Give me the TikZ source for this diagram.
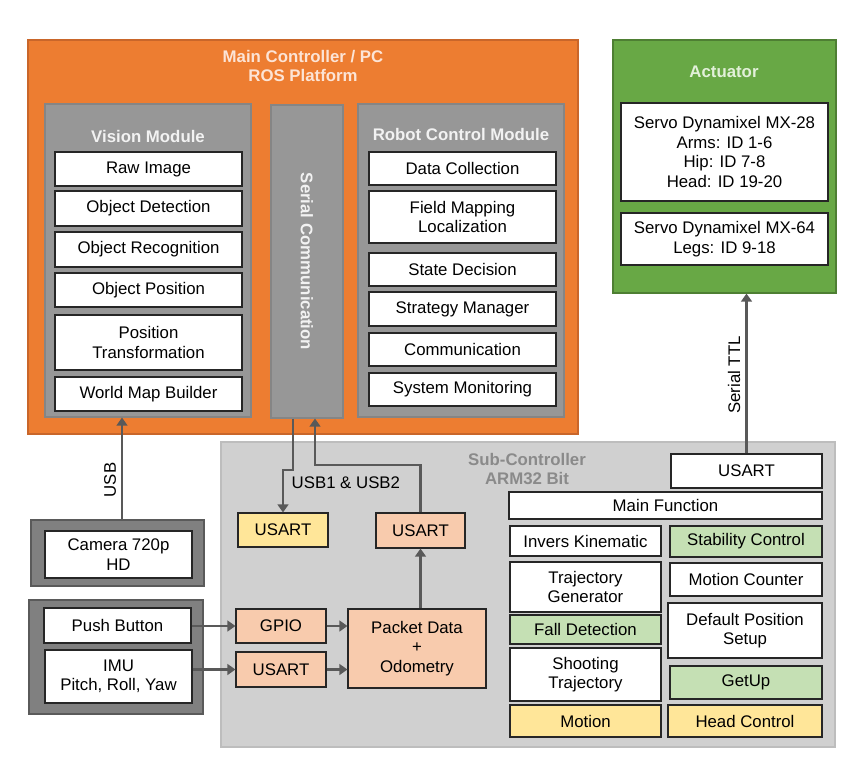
\documentclass[tikz,border=0pt]{standalone}
\usepackage{fontspec}
\setmainfont{Liberation Sans}
\usepackage{xcolor}
\usetikzlibrary{arrows.meta, positioning}

\definecolor{arancio}{HTML}{ED7D31}
\definecolor{arancioScuro}{HTML}{C9662A}
\definecolor{arancioChiaro}{HTML}{FCE4D6}
\definecolor{grigioMod}{HTML}{979797}
\definecolor{grigioBordo}{HTML}{858585}
\definecolor{grigioSub}{HTML}{D0D0D0}
\definecolor{grigioSubBordo}{HTML}{BDBDBD}
\definecolor{grigioTitolo}{HTML}{8A8A8A}
\definecolor{grigioScuro}{HTML}{808080}
\definecolor{grigioScuroBordo}{HTML}{5A5A5A}
\definecolor{grigioFreccia}{HTML}{595959}
\definecolor{verde}{HTML}{68A845}
\definecolor{verdeScuro}{HTML}{4E7F33}
\definecolor{verdeChiaro}{HTML}{E2F0D9}
\definecolor{verdeTenue}{HTML}{C5E0B4}
\definecolor{pesca}{HTML}{F8CBAD}
\definecolor{giallo}{HTML}{FFE699}

\newcommand{\diagfont}{\fontsize{12.6}{14.6}\selectfont}

\begin{document}
\begin{tikzpicture}[x=0.75pt, y=-0.75pt,
    zona/.style n args={4}{minimum width={(#3-#1)*0.75pt}, minimum height={(#4-#2)*0.75pt},
        at={({(#1+#3)/2},{(#2+#4)/2})}},
    blocco/.style={draw=black!85, line width=0.8pt, inner sep=0pt, align=center, font=\diagfont},
    wbox/.style={blocco, fill=white},
    modulo/.style={draw=grigioBordo, fill=grigioMod, line width=0.8pt, inner sep=0pt},
    titolo/.style={font=\diagfont\bfseries, text=white!95!black, align=center},
    freccia/.style={draw=grigioFreccia, line width=2.2pt, -{Triangle[width=8pt,length=6pt]}}]
    \useasboundingbox (0,0) rectangle (867,778);
    % Controllore principale
    \node[modulo, fill=arancio, draw=arancioScuro, zona={28}{40}{578}{434}] (main) {};
    \node[titolo, text=arancioChiaro] (mainT) at (303,66) {Main Controller / PC\\ROS Platform};
    % Vision
    \node[modulo, zona={45}{104}{251}{417}] (vision) {};
    \node[titolo] (visionT) at (148,136) {Vision Module};
    \foreach \nome/\ya/\yb/\testo in {raw/152/186/Raw Image, det/191/226/Object Detection,
        rec/232/267/Object Recognition, pos/273/307/Object Position,
        trans/315/370/Position\\Transformation, wmb/377/411/World Map Builder}{
        \node[wbox, zona={55}{\ya}{242}{\yb}] (\nome) {\testo};
    }
    % Serial
    \node[modulo, zona={271}{105}{343}{418}] (serial) {};
    \node[titolo, rotate=-90] (serialT) at (serial.center) {Serial Communication};
    % Robot control
    \node[modulo, zona={358}{104}{564}{417}] (robot) {};
    \node[titolo] (robotT) at (461,134) {Robot Control Module};
    \foreach \nome/\ya/\yb/\testo in {dc/152/185/Data Collection, fml/191/243/Field Mapping\\Localization,
        sd/253/286/State Decision, sm/292/326/Strategy Manager,
        com/333/366/Communication, smon/373/406/System Monitoring}{
        \node[wbox, zona={369}{\ya}{556}{\yb}] (\nome) {\testo};
    }
    % Attuatori
    \node[modulo, fill=verde, draw=verdeScuro, zona={613}{40}{836}{293}] (act) {};
    \node[titolo, text=verdeChiaro] (actT) at (724,72) {Actuator};
    \node[wbox, zona={621}{103}{828}{201}] (mx28) {Servo Dynamixel MX-28\\Arms: ID 1-6\\Hip: ID 7-8\\Head: ID 19-20};
    \node[wbox, zona={621}{213}{828}{265}] (mx64) {Servo Dynamixel MX-64\\Legs: ID 9-18};
    % Sub-controller
    \node[modulo, fill=grigioSub, draw=grigioSubBordo, zona={221}{442}{835}{747}] (sub) {};
    \node[titolo, text=grigioTitolo] (subT) at (527,469) {Sub-Controller\\ARM32 Bit};
    \node[wbox, zona={671}{454}{822}{488}] (usartT) {USART};
    \node[wbox, zona={509}{492}{822}{519}] (mainf) {Main Function};
    \foreach \nome/\xa/\ya/\xb/\yb/\colore/\testo in {
        ik/510/526/661/556/white/Invers Kinematic, stab/670/526/822/557/verdeTenue/Stability Control,
        traj/510/562/661/612/white/Trajectory\\Generator, mc/670/563/822/596/white/Motion Counter,
        fall/510/615/661/644/verdeTenue/Fall Detection, dps/668/603/822/658/white/Default Position\\Setup,
        shoot/510/648/661/701/white/Shooting\\Trajectory, getup/670/666/822/699/verdeTenue/GetUp,
        motion/510/705/661/737/giallo/Motion, head/668/705/822/737/giallo/Head Control,
        usartY/238/513/328/547/giallo/USART, usartP/376/513/465/548/pesca/USART,
        gpio/236/609/326/643/pesca/GPIO, usartI/236/652/326/687/pesca/USART,
        packet/348/609/486/688/pesca/Packet Data\\+\\Odometry}{
        \node[blocco, fill=\colore, zona={\xa}{\ya}{\xb}{\yb}] (\nome) {\testo};
    }
    % Sensori
    \node[modulo, fill=grigioScuro, draw=grigioScuroBordo, zona={31}{520}{204}{586}] (camBox) {};
    \node[wbox, zona={45}{531}{192}{578}] (cam) {Camera 720p\\HD};
    \node[modulo, fill=grigioScuro, draw=grigioScuroBordo, zona={29}{600}{203}{714}] (sensBox) {};
    \node[wbox, zona={44}{608}{191}{643}] (push) {Push Button};
    \node[wbox, zona={45}{650}{192}{703}] (imu) {IMU\\Pitch, Roll, Yaw};
    % Frecce
    \coordinate (usbX) at (122,0);
    \coordinate (giuA) at (293,470);
    \coordinate (giuB) at (283,470);
    \coordinate (suX) at (315,465);
    \draw[freccia] (camBox.north -| usbX) -- (vision.south -| usbX);
    \node[rotate=90, font=\diagfont] (usbL) at (110,480) {USB};
    \draw[freccia] (serial.south -| giuA) -- (giuA) -- (giuB) -- (usartY.north -| giuB);
    \draw[freccia] (usartP.north) |- (suX) -- (suX |- serial.south);
    \node[anchor=west, font=\diagfont] (usbL2) at (287,483) {USB1 \& USB2};
    \draw[freccia] (push.east |- gpio) -- (gpio);
    \draw[freccia] (imu.east |- usartI) -- (usartI);
    \draw[freccia] (gpio) -- (packet.west |- gpio);
    \draw[freccia] (usartI) -- (packet.west |- usartI);
    \draw[freccia] (packet.north -| usartP) -- (usartP);
    \draw[freccia] (usartT) -- (usartT |- act.south);
    \node[rotate=90, font=\diagfont] (ttlL) at (734,375) {Serial TTL};
\end{tikzpicture}
\end{document}
